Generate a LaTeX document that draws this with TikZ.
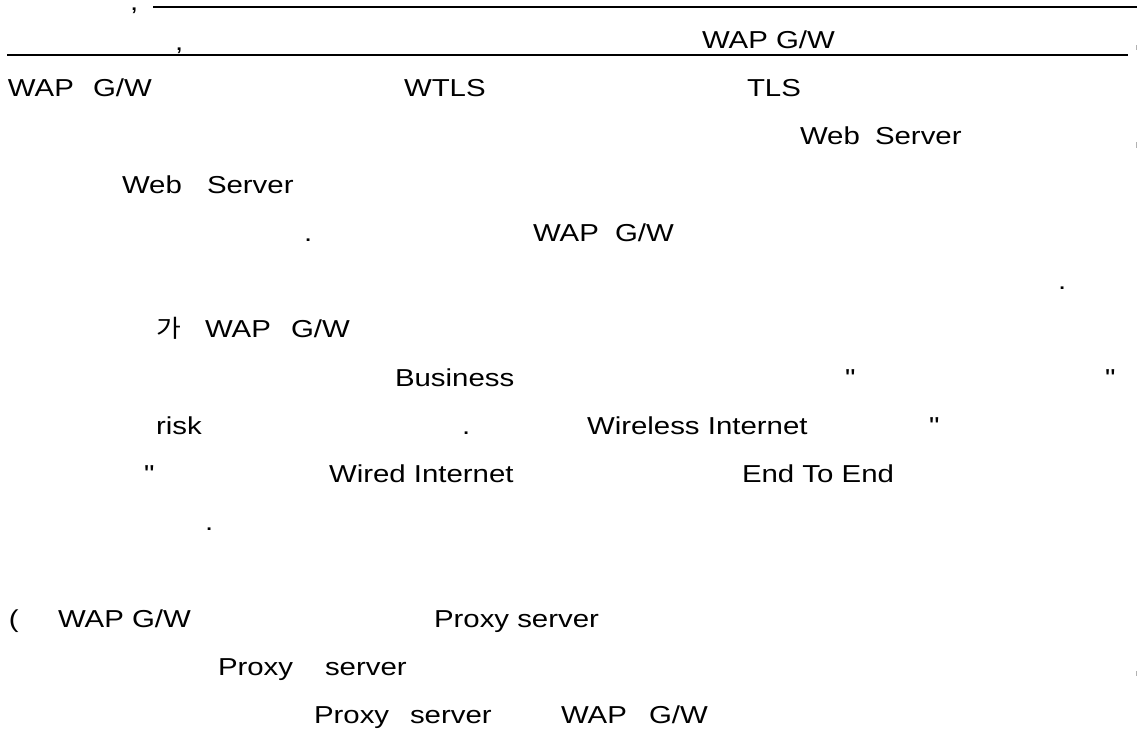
\documentclass[tikz,border=0pt]{standalone}
\usepackage{fontspec}
\setmainfont[FakeStretch=1.2,Ligatures=TeXOff]{Liberation Sans}
\newfontfamily\hangul[FakeStretch=1.1]{Noto Sans CJK KR}
\begin{document}
\begin{tikzpicture}[x=1pt,y=-1pt,
  txt/.style={anchor=base west,inner sep=0pt,outer sep=0pt,
              font=\fontsize{24.5}{29}\selectfont},
  rule/.style={line width=2pt},
  edgemark/.style={fill=black!30,draw=none}]
\useasboundingbox[fill=white] (0,0) rectangle (1137,731);

% underlines of the first two lines
\coordinate (u0a) at (153,7);  \coordinate (u0b) at (1137,7);
\coordinate (u1a) at (7,55);   \coordinate (u1b) at (1128,55);
\draw[rule] (u0a) -- (u0b);
\draw[rule] (u1a) -- (u1b);

% line 0
\node[txt] (l0a) at (130,10) {,};
% line 1
\node[txt] (l1a) at (175,50) {,};
\node[txt] (l1b) at (702,48) {WAP G/W};
% line 2
\node[txt] (l2a) at (8,96) {WAP};
\node[txt] (l2b) at (93,96) {G/W};
\node[txt] (l2c) at (404,96) {WTLS};
\node[txt] (l2d) at (747,96) {TLS};
% line 3
\node[txt] (l3a) at (800,144.5) {Web};
\node[txt] (l3b) at (875,144.5) {Server};
% line 4
\node[txt] (l4a) at (122,193) {Web};
\node[txt] (l4b) at (207,193) {Server};
% line 5
\node[txt] (l5a) at (304,241) {.};
\node[txt] (l5b) at (533,241) {WAP};
\node[txt] (l5c) at (615,241) {G/W};
% line 6
\node[txt] (l6a) at (1058,289) {.};
% line 7
\node[txt] (l7a) at (156,337.5) {\hangul 가};
\node[txt] (l7b) at (205,337.5) {WAP};
\node[txt] (l7c) at (291,337.5) {G/W};
% line 8
\node[txt] (l8a) at (395,386) {Business};
\node[txt] (l8b) at (845,386) {"};
\node[txt] (l8c) at (1105,386) {"};
% line 9
\node[txt] (l9a) at (156,434) {risk};
\node[txt] (l9b) at (462,434) {.};
\node[txt] (l9c) at (587,434) {Wireless Internet};
\node[txt] (l9d) at (929,434) {"};
% line 10
\node[txt] (l10a) at (144,482) {"};
\node[txt] (l10b) at (329,482) {Wired Internet};
\node[txt] (l10c) at (742,482) {End To End};
% line 11
\node[txt] (l11a) at (205,530) {.};
% line 13
\node[txt] (l13a) at (9,627) {(};
\node[txt] (l13b) at (58,627) {WAP G/W};
\node[txt] (l13c) at (434,627) {Proxy server};
% line 14
\node[txt] (l14a) at (218,675) {Proxy};
\node[txt] (l14b) at (325,675) {server};
% line 15
\node[txt] (l15a) at (314,723) {Proxy};
\node[txt] (l15b) at (410,723) {server};
\node[txt] (l15c) at (561,723) {WAP};
\node[txt] (l15d) at (649,723) {G/W};

% clipped marks at the right margin
\fill[edgemark] (1135.5,45) rectangle (1137,50);
\fill[edgemark] (1135.5,142) rectangle (1137,148);
\fill[edgemark] (1135.5,671) rectangle (1137,676);
\end{tikzpicture}
\end{document}
